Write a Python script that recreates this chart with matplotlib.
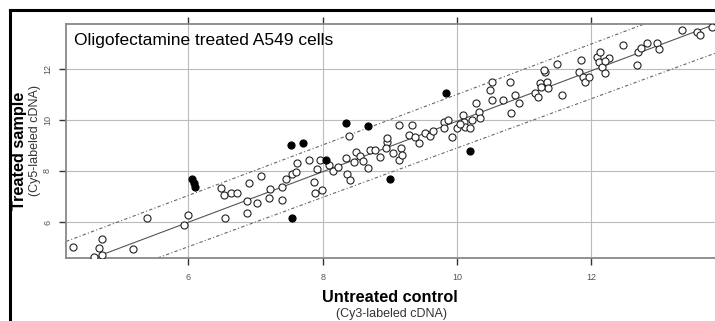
import numpy as np
import matplotlib
matplotlib.use("Agg")
import matplotlib.pyplot as plt
from matplotlib.lines import Line2D

plt.rcParams['font.family'] = ['Liberation Sans', 'DejaVu Sans']

# open circles: (untreated, treated) log2 intensities
open_x = [4.28, 4.72, 4.67, 4.72, 4.59, 5.17, 5.39, 6.00, 5.94,
          6.48, 6.53, 6.64, 6.73, 6.91, 6.88, 6.88, 6.54, 7.02,
          7.08, 7.20, 7.22, 7.39, 7.39, 7.54, 7.61, 7.62, 7.79, 7.87, 7.96,
          7.92, 7.88, 7.99, 8.15, 8.23, 8.35, 8.39, 8.49, 8.46, 8.36, 8.40,
          8.68, 8.71, 8.78, 8.85, 8.96, 8.95, 8.96, 9.14, 9.16, 9.14, 9.18,
          9.33, 9.28, 9.38, 9.43, 9.53, 9.60, 9.80, 9.87, 9.80, 9.92, 10.00,
          10.09, 10.10, 10.12, 10.20, 10.22, 10.29, 10.32, 10.34, 10.49, 10.52,
          10.52, 10.69, 10.79, 10.80, 10.87, 10.92, 11.16, 11.21, 11.24, 11.31,
          11.30, 11.34, 11.36, 11.56, 11.49, 11.81, 11.84, 11.88, 11.91, 11.97,
          12.08, 12.11, 12.13, 12.16, 12.26, 12.21, 12.47, 12.68, 12.70, 12.74,
          12.83, 12.97, 13.00, 13.35, 13.57, 13.62, 13.79,
          8.55, 8.60, 9.05, 9.65, 10.05, 11.25, 12.20, 7.45, 8.10]
open_y = [5.03, 5.32, 4.97, 4.71, 4.64, 4.93, 6.15, 6.27, 5.88,
          7.32, 7.06, 7.15, 7.15, 7.54, 6.82, 6.36, 6.15, 6.75,
          7.80, 6.93, 7.28, 7.38, 6.86, 7.88, 7.97, 8.33, 8.43, 7.58, 8.43,
          8.07, 7.13, 7.25, 8.01, 8.15, 8.50, 9.37, 8.76, 8.36, 7.88, 7.65,
          8.11, 8.82, 8.82, 8.54, 9.15, 8.89, 9.30, 9.80, 8.89, 8.43, 8.63,
          9.80, 9.41, 9.35, 9.09, 9.48, 9.37, 9.93, 10.00, 9.67, 9.35, 9.67,
          10.20, 9.93, 9.74, 9.67, 10.00, 10.68, 10.33, 10.07, 11.18, 11.50,
          10.78, 10.78, 11.50, 10.29, 10.98, 10.65, 11.05, 10.91, 11.44, 11.89,
          11.96, 11.50, 11.24, 10.98, 12.20, 11.89, 12.33, 11.70, 11.50, 11.70,
          12.48, 12.29, 12.68, 12.09, 12.42, 11.83, 12.94, 12.16, 12.68, 12.81,
          13.00, 13.00, 12.77, 13.53, 13.46, 13.33, 13.64,
          8.60, 8.40, 8.70, 9.55, 9.85, 11.30, 12.30, 7.70, 8.25]

# filled circles: outliers
fill_x = [6.06, 6.08, 6.10, 7.53, 7.71, 7.55, 8.05, 8.35, 8.68, 9.00, 9.83, 10.20]
fill_y = [7.68, 7.53, 7.36, 9.02, 9.11, 6.17, 8.43, 9.87, 9.76, 7.67, 11.07, 8.80]

# fit line and bands: (intercept, slope)
center_fit = (0.05, 0.99)
upper_fit = (1.10, 0.99)
lower_fit = (-0.77, 0.967)

xlim = (4.18, 13.84)
ylim = (4.59, 13.76)
ticks = [6, 8, 10, 12]

fig = plt.figure(figsize=(7.15, 3.21), dpi=100)
ax = fig.add_axes([66 / 715, 1 - 258 / 321, 1 - 66 / 715, 234 / 321])

xs = np.array(xlim)
ax.plot(xs, center_fit[0] + center_fit[1] * xs, color='#555555', lw=0.8, zorder=2)
ax.plot(xs, upper_fit[0] + upper_fit[1] * xs, color='#666666', lw=0.8,
        ls=(0, (3, 2, 1, 2)), zorder=2)
ax.plot(xs, lower_fit[0] + lower_fit[1] * xs, color='#666666', lw=0.8,
        ls=(0, (3, 2, 1, 2)), zorder=2)

ax.scatter(open_x, open_y, s=26, facecolors='white', edgecolors='#222222',
           linewidths=0.8, zorder=3)
ax.scatter(fill_x, fill_y, s=26, facecolors='black', edgecolors='black',
           linewidths=0.8, zorder=4)

ax.set_xlim(xlim)
ax.set_ylim(ylim)
ax.set_xticks(ticks)
ax.set_yticks(ticks)
ax.grid(True, color='#bbbbbb', lw=0.8)
ax.set_axisbelow(True)
ax.tick_params(axis='x', top=True, direction='out', length=5, width=1,
               color='#333333', labelsize=6.5, labelcolor='#555555', pad=6)
ax.tick_params(axis='y', direction='out', length=5, width=1,
               color='#333333', labelsize=6.5, labelcolor='#555555', pad=5)
for lab in ax.get_yticklabels():
    lab.set_rotation(90)
    lab.set_va('center')
for side in ['left', 'top', 'bottom']:
    ax.spines[side].set_color('#888888')
    ax.spines[side].set_linewidth(1.3)
ax.spines['right'].set_visible(False)

fig.text(74 / 715, 1 - 41 / 321, 'Oligofectamine treated A549 cells',
         fontsize=12.5, va='center', ha='left')

fig.text(390 / 715, 1 - 298 / 321, 'Untreated control', fontsize=11.7,
         fontweight='bold', ha='center', va='center')
fig.text(392 / 715, 1 - 314 / 321, '(Cy3-labeled cDNA)', fontsize=9,
         color='#333333', ha='center', va='center')
fig.text(19.5 / 715, 1 - 151 / 321, 'Treated sample', fontsize=11.7,
         fontweight='bold', rotation=90, ha='center', va='center')
fig.text(35 / 715, 1 - 141 / 321, '(Cy5-labeled cDNA)', fontsize=9,
         color='#333333', rotation=90, ha='center', va='center')

# outer black frame (left and top)
fig.add_artist(Line2D([10 / 715, 10 / 715], [0, 1 - 10 / 321],
                      transform=fig.transFigure, color='black', lw=2.2))
fig.add_artist(Line2D([10 / 715, 1], [1 - 10 / 321, 1 - 10 / 321],
                      transform=fig.transFigure, color='black', lw=2.2))

fig.savefig('out.png', dpi=100)
